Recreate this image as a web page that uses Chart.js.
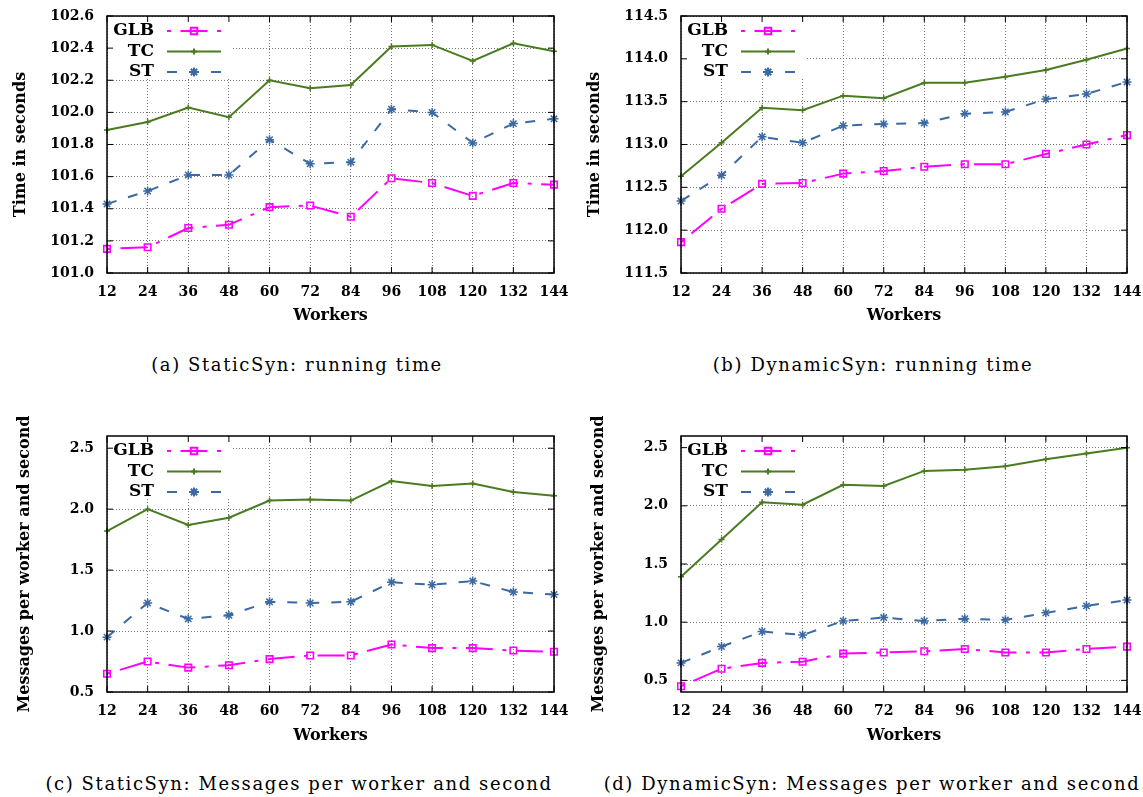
<!DOCTYPE html>
<html>
<head>
<meta charset="utf-8">
<script src="https://cdn.jsdelivr.net/npm/chart.js@4.4.1/dist/chart.umd.min.js"></script>
<style>
  body { margin: 0; background: #fff; width: 1143px; height: 797px; position: relative; overflow: hidden; }
  canvas { position: absolute; }
  .cap { position: absolute; font-family: 'DejaVu Serif', serif; font-size: 18px; letter-spacing: 1.6px; white-space: nowrap; transform: translate(-50%, -50%); color: #000; }
</style>
</head>
<body>
<canvas id="chartA" width="571" height="340" style="left:0;top:0"></canvas>
<canvas id="chartB" width="572" height="340" style="left:571px;top:0"></canvas>
<canvas id="chartC" width="571" height="360" style="left:0;top:400px"></canvas>
<canvas id="chartD" width="572" height="360" style="left:571px;top:400px"></canvas>
<div class="cap" style="left:297px;top:364px">(a) StaticSyn: running time</div>
<div class="cap" style="left:873px;top:364px">(b) DynamicSyn: running time</div>
<div class="cap" style="left:299px;top:783px">(c) StaticSyn: Messages per worker and second</div>
<div class="cap" style="left:872px;top:783px">(d) DynamicSyn: Messages per worker and second</div>
<script>
const workers = ['12', '24', '36', '48', '60', '72', '84', '96', '108', '120', '132', '144'];

// (a) StaticSyn running time
const staticTimeGLB = [101.15, 101.16, 101.28, 101.30, 101.41, 101.42, 101.35, 101.59, 101.56, 101.48, 101.56, 101.55];
const staticTimeTC  = [101.89, 101.94, 102.03, 101.97, 102.20, 102.15, 102.17, 102.41, 102.42, 102.32, 102.43, 102.38];
const staticTimeST  = [101.43, 101.51, 101.61, 101.61, 101.83, 101.68, 101.69, 102.02, 102.00, 101.81, 101.93, 101.96];

// (b) DynamicSyn running time
const dynamicTimeGLB = [111.86, 112.25, 112.54, 112.55, 112.66, 112.69, 112.74, 112.77, 112.77, 112.89, 113.00, 113.11];
const dynamicTimeTC  = [112.63, 113.02, 113.43, 113.40, 113.57, 113.54, 113.72, 113.72, 113.79, 113.87, 113.99, 114.12];
const dynamicTimeST  = [112.34, 112.64, 113.09, 113.02, 113.22, 113.24, 113.25, 113.36, 113.38, 113.53, 113.59, 113.73];

// (c) StaticSyn messages per worker and second
const staticMsgGLB = [0.65, 0.75, 0.70, 0.72, 0.77, 0.80, 0.80, 0.89, 0.86, 0.86, 0.84, 0.83];
const staticMsgTC  = [1.82, 2.00, 1.87, 1.93, 2.07, 2.08, 2.07, 2.23, 2.19, 2.21, 2.14, 2.11];
const staticMsgST  = [0.95, 1.23, 1.10, 1.13, 1.24, 1.23, 1.24, 1.40, 1.38, 1.41, 1.32, 1.30];

// (d) DynamicSyn messages per worker and second
const dynamicMsgGLB = [0.45, 0.60, 0.65, 0.66, 0.73, 0.74, 0.75, 0.77, 0.74, 0.74, 0.77, 0.79];
const dynamicMsgTC  = [1.39, 1.71, 2.03, 2.01, 2.18, 2.17, 2.30, 2.31, 2.34, 2.40, 2.45, 2.50];
const dynamicMsgST  = [0.65, 0.79, 0.92, 0.89, 1.01, 1.04, 1.01, 1.03, 1.02, 1.08, 1.14, 1.19];

const staticTimeTicks = [101.0, 101.2, 101.4, 101.6, 101.8, 102.0, 102.2, 102.4, 102.6];
const dynamicTimeTicks = [111.5, 112.0, 112.5, 113.0, 113.5, 114.0, 114.5];
const msgTicks = [0.5, 1.0, 1.5, 2.0, 2.5];

const FONT = '"DejaVu Serif", serif';

// gnuplot style key in the upper left corner, white box hides the grid
const keyPlugin = {
    id: 'key',
    beforeDatasetsDraw(chart) {
        const { ctx, chartArea: a } = chart;
        ctx.save();
        ctx.fillStyle = '#fff';
        ctx.fillRect(a.left + 1, a.top + 1, 125, 60);
        ctx.restore();
    },
    afterDatasetsDraw(chart) {
        const { ctx, chartArea: a } = chart;
        chart.data.datasets.forEach((ds, i) => {
            const y = a.top + 15 + i * 20.5;
            ctx.save();
            ctx.font = 'bold 17px ' + FONT;
            ctx.textAlign = 'right';
            ctx.textBaseline = 'middle';
            ctx.fillStyle = '#000';
            ctx.fillText(ds.label, a.left + 47, y);
            ctx.strokeStyle = ds.borderColor;
            ctx.lineWidth = ds.borderWidth;
            ctx.setLineDash(ds.borderDash || []);
            ctx.beginPath();
            ctx.moveTo(a.left + 60, y);
            ctx.lineTo(a.left + 114, y);
            ctx.stroke();
            ctx.setLineDash([]);
            ctx.fillStyle = 'rgba(0,0,0,0)';
            Chart.helpers.drawPoint(ctx, { pointStyle: ds.pointStyle, radius: ds.pointRadius, borderWidth: ds.pointBorderWidth }, a.left + 87, y);
            ctx.restore();
        });
    }
};

// border with inward tick marks + rotated y title
const framePlugin = {
    id: 'frame',
    afterDraw(chart, args, opts) {
        const { ctx, chartArea: a, scales } = chart;
        ctx.save();
        ctx.strokeStyle = '#000';
        ctx.lineWidth = 1;
        ctx.beginPath();
        scales.y.ticks.forEach(t => {
            const y = scales.y.getPixelForValue(t.value);
            ctx.moveTo(a.left, y); ctx.lineTo(a.left + 6, y);
            ctx.moveTo(a.right, y); ctx.lineTo(a.right - 6, y);
        });
        scales.x.ticks.forEach((t, i) => {
            const x = scales.x.getPixelForTick(i);
            ctx.moveTo(x, a.bottom); ctx.lineTo(x, a.bottom - 6);
            ctx.moveTo(x, a.top); ctx.lineTo(x, a.top + 6);
        });
        ctx.stroke();
        ctx.lineWidth = 1.5;
        ctx.strokeRect(a.left, a.top, a.right - a.left, a.bottom - a.top);
        ctx.translate(opts.x, (a.top + a.bottom) / 2);
        ctx.rotate(-Math.PI / 2);
        ctx.font = 'bold 16px ' + FONT;
        ctx.fillStyle = '#000';
        ctx.textAlign = 'center';
        ctx.textBaseline = 'middle';
        ctx.fillText(opts.text, 0, 0);
        ctx.restore();
    }
};

function makeChart(id, glb, tc, st, ticks, min, max, yTitle, box) {
    const ctx = document.getElementById(id).getContext('2d');
    return new Chart(ctx, {
        type: 'line',
        data: {
            labels: workers,
            datasets: [
                {
                    label: 'GLB', data: glb,
                    borderColor: '#ff00ff', backgroundColor: 'rgba(0,0,0,0)',
                    borderWidth: 2, borderDash: [4, 9.5, 27, 9.5],
                    pointStyle: 'rect', pointRadius: 4.6, pointBorderWidth: 1.6,
                    pointBackgroundColor: 'rgba(0,0,0,0)', clip: false
                },
                {
                    label: 'TC', data: tc,
                    borderColor: '#4b7b21', backgroundColor: '#4b7b21',
                    borderWidth: 2,
                    pointStyle: 'cross', pointRadius: 3, pointBorderWidth: 1.5, clip: false
                },
                {
                    label: 'ST', data: st,
                    borderColor: '#3b69a3', backgroundColor: '#3b69a3',
                    borderWidth: 2, borderDash: [10, 12],
                    pointStyle: 'star', pointRadius: 4.5, pointBorderWidth: 1.5, clip: false
                }
            ]
        },
        options: {
            responsive: false,
            animation: false,
            events: [],
            layout: { autoPadding: false, padding: { left: 0, top: box.top, right: box.right, bottom: 0 } },
            plugins: {
                legend: { display: false },
                tooltip: { enabled: false },
                frame: { text: yTitle, x: box.titleX }
            },
            scales: {
                x: {
                    grid: { color: '#777', lineWidth: 1, drawTicks: false },
                    border: { display: false, dash: [1, 2] },
                    ticks: { color: '#000', font: { family: FONT, size: 14, weight: 'bold' }, padding: 11, maxRotation: 0, autoSkip: false },
                    title: { display: true, text: 'Workers', color: '#000', font: { family: FONT, size: 16, weight: 'bold' }, padding: { top: 0, bottom: 15 } },
                    // fixed axis box, no extra room for the end labels
                    afterFit: s => { s.height = box.xHeight; s.paddingLeft = 0; s.paddingRight = 0; }
                },
                y: {
                    min: min, max: max,
                    afterBuildTicks: s => { s.ticks = ticks.map(v => ({ value: v })); },
                    grid: { color: '#777', lineWidth: 1, drawTicks: false },
                    border: { display: false, dash: [1, 2] },
                    ticks: { color: '#000', font: { family: FONT, size: 14, weight: 'bold' }, padding: 13, callback: v => Number(v).toFixed(1) },
                    afterFit: s => { s.width = box.yWidth; s.paddingTop = 0; s.paddingBottom = 0; }
                }
            }
        },
        plugins: [keyPlugin, framePlugin]
    });
}

makeChart('chartA', staticTimeGLB, staticTimeTC, staticTimeST, staticTimeTicks, 101.0, 102.6, 'Time in seconds',
    { top: 16, right: 17, yWidth: 107, xHeight: 67, titleX: 21 });
makeChart('chartB', dynamicTimeGLB, dynamicTimeTC, dynamicTimeST, dynamicTimeTicks, 111.5, 114.5, 'Time in seconds',
    { top: 16, right: 16, yWidth: 110, xHeight: 67, titleX: 24 });
makeChart('chartC', staticMsgGLB, staticMsgTC, staticMsgST, msgTicks, 0.5, 2.6, 'Messages per worker and second',
    { top: 36, right: 17, yWidth: 107, xHeight: 68, titleX: 25 });
makeChart('chartD', dynamicMsgGLB, dynamicMsgTC, dynamicMsgST, msgTicks, 0.4, 2.6, 'Messages per worker and second',
    { top: 36, right: 16, yWidth: 110, xHeight: 68, titleX: 28 });
</script>
</body>
</html>
